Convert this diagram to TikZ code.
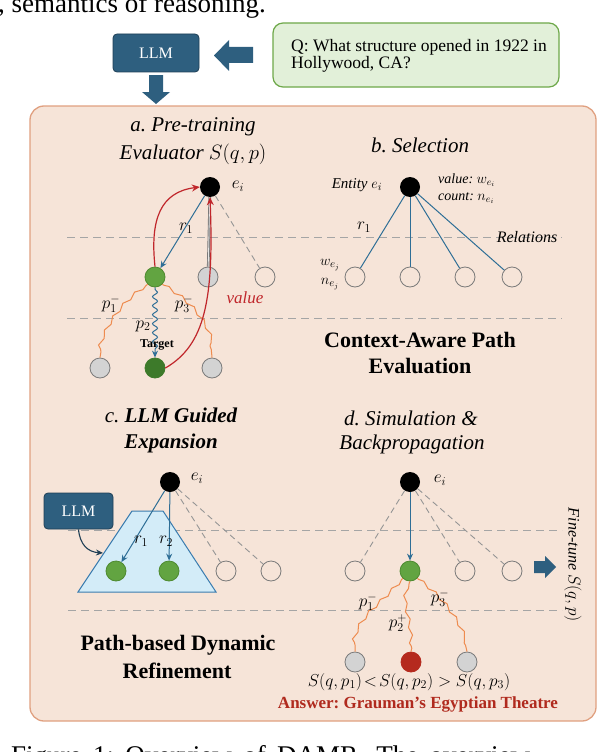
\documentclass[tikz,border=0pt]{standalone}
\usepackage{fontspec}
\setmainfont{Liberation Serif}
\frenchspacing
\usetikzlibrary{decorations.pathmorphing,arrows.meta}
\definecolor{llmblue}{HTML}{2E5F7F}
\definecolor{llmdark}{HTML}{1F3F55}
\definecolor{qfill}{HTML}{E2F0D9}
\definecolor{qdraw}{HTML}{6EA84A}
\definecolor{mainfill}{HTML}{F6E4D8}
\definecolor{maindraw}{HTML}{E0A080}
\definecolor{ngreen}{HTML}{62A441}
\definecolor{ngreenb}{HTML}{4E8A30}
\definecolor{dgreen}{HTML}{3D7A2A}
\definecolor{ngray}{HTML}{D3D3D3}
\definecolor{ngrayb}{HTML}{7A7A7A}
\definecolor{eblue}{HTML}{2E6E96}
\definecolor{worange}{HTML}{EE8B4F}
\definecolor{rarrow}{HTML}{C0262B}
\definecolor{rnodec}{HTML}{B52A1E}
\definecolor{trapfill}{HTML}{D3ECF8}
\definecolor{trapdraw}{HTML}{3A7CAF}
\definecolor{sgray}{HTML}{A5A5A5}
\definecolor{anscol}{HTML}{B02A1E}
\newcommand{\myfs}[1]{\fontsize{#1}{#1}\selectfont}
\begin{document}
\frenchspacing
\begin{tikzpicture}[x=1pt,y=-1pt,
  ent/.style={circle, fill=black, inner sep=0, minimum size=20},
  grn/.style={circle, fill=ngreen, draw=ngreenb, line width=0.8, inner sep=0, minimum size=20},
  dgrn/.style={circle, fill=dgreen, draw=dgreen, line width=0.8, inner sep=0, minimum size=20},
  gry/.style={circle, fill=ngray, draw=ngrayb, line width=0.8, inner sep=0, minimum size=20},
  wht/.style={circle, draw=ngrayb, line width=0.8, inner sep=0, minimum size=20},
  rnd/.style={circle, fill=rnodec, draw=rnodec, line width=0.8, inner sep=0, minimum size=20},
  bedge/.style={draw=eblue, line width=1},
  barr/.style={draw=eblue, line width=1, -{Stealth[length=7,width=6]}},
  dedge/.style={draw=ngrayb!80, line width=0.9, dash pattern=on 6 off 4},
  sepline/.style={draw=sgray, line width=1, dash pattern=on 8 off 5},
  wavy/.style={draw=worange, line width=1, decorate, decoration={snake, amplitude=1.6, segment length=16, pre length=2, post length=2}},
  redarr/.style={draw=rarrow, line width=1.2, -{Stealth[length=8,width=7]}},
  ttl/.style={font=\myfs{21}\itshape, align=center, inner sep=0},
  bigt/.style={font=\myfs{22}\bfseries, align=center, inner sep=0},
  lbl/.style={font=\myfs{17}, inner sep=0},
  llmbox/.style={rounded corners=4, fill=llmblue, draw=llmdark, line width=0.8, text=white, font=\myfs{16}, inner sep=0}
]
\useasboundingbox (0,0) rectangle (598,752);
\clip (0,0) rectangle (598,752);

% cropped surrounding text
\node[anchor=base west, font=\myfs{27}, inner sep=0] (toptext) at (-2,12.5) {, semantics of reasoning.};
\node[anchor=base west, font=\myfs{27}, inner sep=0] (caption) at (11,764) {\makebox[519pt][s]{Figure 1: Overview of DAMR. The overview}};

% top: LLM, question, arrows
\node[llmbox, minimum width=86, minimum height=38] (llm) at (156,53) {LLM};
\node[draw=qdraw, fill=qfill, line width=1.2, rounded corners=10, minimum width=286, minimum height=64, inner sep=0] (qbox) at (416,55) {};
\node[anchor=base west, font=\myfs{17.5}, inner sep=0] (q1) at (291,52) {Q: What structure opened in 1922 in};
\node[anchor=base west, font=\myfs{17.5}, inner sep=0] (q2) at (291,69) {Hollywood, CA?};
\fill[llmblue] (253,47) -- (229,47) -- (229,40) -- (214,55.5) -- (229,71) -- (229,63) -- (253,63) -- cycle;
\fill[llmblue] (149,75) -- (163,75) -- (163,92) -- (170,92) -- (156,104) -- (142,92) -- (149,92) -- cycle;

% main panel
\draw[fill=mainfill, draw=maindraw, line width=1.3, rounded corners=14] (30,106) rectangle (596,721);

% separators
\draw[sepline] (67,237) -- (562,237);
\draw[sepline] (67,318) -- (562,318);
\draw[sepline] (68,530) -- (562,530);
\draw[sepline] (68,610) -- (562,610);

% ---------- panel a ----------
\node[ttl] (ta1) at (193,127) {a. Pre-training};
\node[ttl] (ta2) at (193,154) {Evaluator $S(q,p)$};
\node[ent] (ea) at (210,187) {};
\node[grn] (ga1) at (155,277) {};
\node[gry] (ga2) at (208,277) {};
\node[wht] (ga3) at (265,277) {};
\node[gry] (ba1) at (100,368) {};
\node[dgrn] (ba2) at (155,368) {};
\node[gry] (ba3) at (212,368) {};
\draw[barr] (ea) -- (ga1);
\draw[draw=ngrayb, line width=2.6] (ea) -- (ga2);
\draw[draw=ngray!60, line width=0.8] (ea) -- (ga2);
\draw[dedge] (ea) -- (ga3);
\draw[wavy] (ga1.south west) .. controls (125,300) and (105,325) .. (ba1.north);
\draw[wavy] (ga1.south east) .. controls (190,300) and (210,325) .. (ba3.north);
\draw[draw=eblue, line width=1, decorate, decoration={snake, amplitude=2.5, segment length=9, pre length=2, post length=7}, -{Stealth[length=7,width=6]}] (ga1.south) -- (ba2.north);
\draw[redarr] (ga1.north) .. controls (150,220) and (160,192) .. (ea.west);
\draw[redarr] (ba2.east) .. controls (205,345) and (214,300) .. (ea.south);
\node[lbl] (lea) at (238,186) {$e_i$};
\node[lbl] (lr1) at (186,228) {$r_1$};
\node[lbl] (lp1) at (111,304) {$p_1^-$};
\node[lbl] (lp3) at (184,304) {$p_3^-$};
\node[lbl] (lp2) at (143,326) {$p_2$};
\node[font=\myfs{12}\bfseries, inner sep=0] (ltar) at (157,345) {Target};
\node[font=\myfs{17}\itshape, text=rarrow, inner sep=0] (lval) at (245,298) {value};

% ---------- panel b ----------
\node[ttl] (tb) at (420,145) {b. Selection};
\node[ent] (eb) at (410,187) {};
\node[wht] (cb1) at (355,277) {};
\node[wht] (cb2) at (410,277) {};
\node[wht] (cb3) at (465,277) {};
\node[wht] (cb4) at (512,277) {};
\draw[bedge] (eb) -- (cb1);
\draw[bedge] (eb) -- (cb2);
\draw[bedge] (eb) -- (cb3);
\draw[bedge] (eb) -- (cb4);
\node[font=\myfs{15}\itshape, inner sep=0] (lent) at (357,185) {Entity $e_i$};
\node[anchor=west, font=\myfs{14}\itshape, inner sep=0] (lvalb) at (438,180) {value: $w_{e_i}$};
\node[anchor=west, font=\myfs{14}\itshape, inner sep=0] (lcnt) at (438,198) {count: $n_{e_i}$};
\node[lbl] (lr1b) at (364,227) {$r_1$};
\node[font=\myfs{16}\itshape, inner sep=0] (lrel) at (527,237) {Relations};
\node[font=\myfs{15}, inner sep=0] (lw) at (330,265) {$w_{e_j}$};
\node[font=\myfs{15}, inner sep=0] (ln) at (330,284) {$n_{e_j}$};
\node[bigt] (tcape1) at (420,340) {Context-Aware Path};
\node[bigt] (tcape2) at (420,366) {Evaluation};

% ---------- panel c ----------
\node[font=\myfs{21}, align=center, inner sep=0] (tc1) at (171,415) {\itshape c. \bfseries LLM Guided};
\node[font=\myfs{21}\bfseries\itshape, inner sep=0] (tc2) at (171,443) {Expansion};
\draw[fill=trapfill, draw=trapdraw, line width=1] (132,511) -- (163,511) -- (216,592) -- (78,592) -- cycle;
\node[llmbox, minimum width=69, minimum height=36] (llmc) at (78.5,511) {LLM};
\coordinate (trapin) at (103,553);
\draw[draw=llmdark, line width=1.1, -{Stealth[length=7,width=6]}] (llmc.south) .. controls (80,545) and (88,552) .. (trapin);
\node[ent] (ec) at (170,482) {};
\node[grn] (gc1) at (116,571) {};
\node[grn] (gc2) at (169,571) {};
\node[wht] (wc3) at (226,571) {};
\node[wht] (wc4) at (271,571) {};
\draw[barr] (ec) -- (gc1);
\draw[barr] (ec) -- (gc2);
\draw[dedge] (ec) -- (wc3);
\draw[dedge] (ec) -- (wc4);
\node[lbl] (lec) at (197,478) {$e_i$};
\node[lbl] (lr1c) at (141,541) {$r_1$};
\node[lbl] (lr2c) at (166,541) {$r_2$};
\node[bigt] (tpd1) at (178,645) {Path-based Dynamic};
\node[bigt] (tpd2) at (177,671) {Refinement};

% ---------- panel d ----------
\node[ttl] (td1) at (411,418) {d. Simulation \&};
\node[ttl] (td2) at (412,444) {Backpropagation};
\node[ent] (ed) at (410,482) {};
\node[wht] (wd1) at (355,571) {};
\node[grn] (gd) at (410,571) {};
\node[wht] (wd3) at (465,571) {};
\node[wht] (wd4) at (512,571) {};
\node[gry] (bd1) at (355,662) {};
\node[rnd] (bd2) at (411,662) {};
\node[gry] (bd3) at (467,662) {};
\draw[dedge] (ed) -- (wd1);
\draw[barr] (ed) -- (gd);
\draw[dedge] (ed) -- (wd3);
\draw[dedge] (ed) -- (wd4);
\draw[wavy] (gd.south west) .. controls (380,605) and (355,615) .. (bd1.north);
\draw[wavy] (gd.south) .. controls (400,600) and (418,620) .. (bd2.north);
\draw[wavy] (gd.south east) .. controls (440,595) and (460,620) .. (bd3.north);
\node[lbl] (led) at (440,480) {$e_i$};
\node[lbl] (lp1d) at (368,602) {$p_1^-$};
\node[lbl] (lp2d) at (398,623) {$p_2^+$};
\node[lbl] (lp3d) at (440,598) {$p_3^-$};
\node[lbl] (lineq) at (409,682) {$S(q,p_1)\!<\!S(q,p_2)>S(q,p_3)$};
\node[font=\myfs{17}\bfseries, text=anscol, inner sep=0] (lans) at (418,704) {Answer: Grauman's Egyptian Theatre};
\fill[llmblue] (534,561) -- (545,561) -- (545,556) -- (556,567) -- (545,578) -- (545,573) -- (534,573) -- cycle;
\node[rotate=-90, font=\myfs{16}\itshape, inner sep=0] (lft) at (573,565) {Fine-tune $S(q,p)$};
\end{tikzpicture}
\end{document}
